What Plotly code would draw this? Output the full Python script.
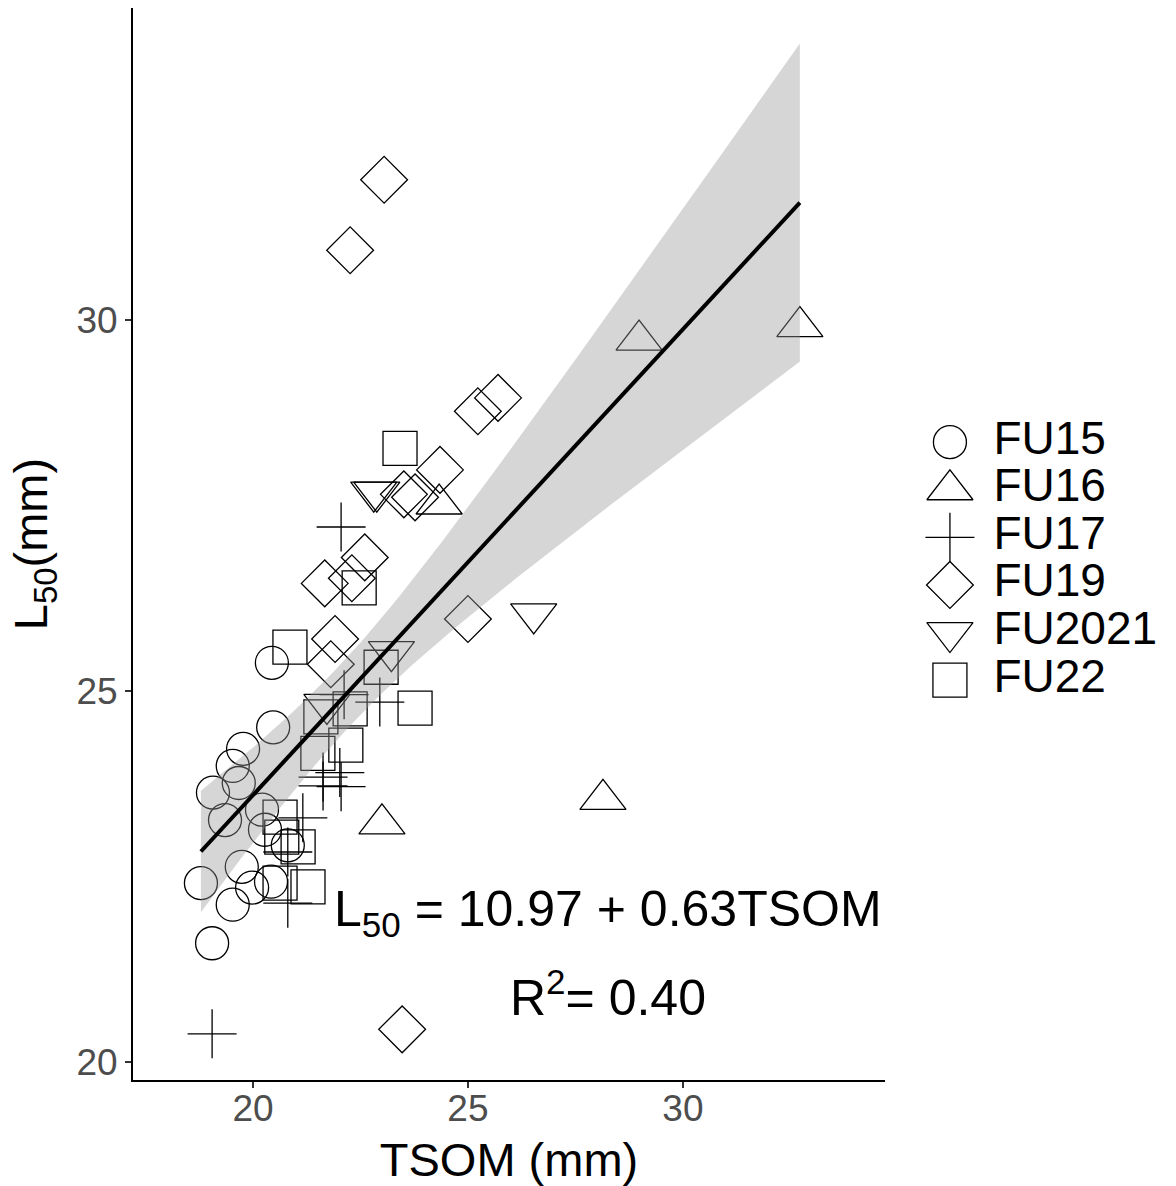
import numpy as np
import plotly.graph_objects as go

# ---------------- data ----------------
groups = ["FU15", "FU16", "FU17", "FU19", "FU2021", "FU22"]

FU15_x = [20.44, 20.47, 19.77, 19.53, 19.67, 19.07, 19.35, 20.21, 20.28, 20.81, 18.79, 19.74, 19.98, 20.42, 19.53, 19.05]
FU15_y = [25.38, 24.51, 24.22, 23.99, 23.76, 23.63, 23.26, 23.40, 23.13, 22.92, 22.41, 22.63, 22.35, 22.43, 22.12, 21.60]

FU16_x = [28.98, 32.72, 24.33, 23.00, 28.14]
FU16_y = [29.73, 29.91, 27.52, 23.21, 23.54]

FU17_x = [19.05, 22.05, 22.95, 22.12, 22.02, 21.63, 21.63, 22.05, 21.16, 20.81, 20.81]
FU17_y = [20.38, 27.21, 24.85, 24.95, 23.90, 23.84, 23.72, 23.71, 23.29, 22.83, 22.14]

FU19_x = [23.05, 22.26, 25.23, 25.70, 24.35, 23.51, 23.77, 21.67, 22.30, 22.60, 21.91, 21.81, 25.00, 23.47]
FU19_y = [31.89, 30.94, 28.77, 28.95, 27.98, 27.65, 27.61, 26.45, 26.52, 26.80, 25.70, 25.36, 25.97, 20.44]

FU2021_x = [22.81, 22.88, 26.53, 23.22, 21.72]
FU2021_y = [27.68, 27.68, 26.04, 25.53, 24.82]

FU22_x = [23.42, 22.47, 20.86, 22.98, 23.77, 22.26, 22.16, 21.58, 21.51, 20.63, 20.67, 21.05, 20.63, 21.28]
FU22_y = [28.27, 26.39, 25.59, 25.32, 24.77, 24.76, 24.27, 24.65, 24.16, 23.30, 23.03, 22.90, 22.41, 22.36]

x_ticks = [20, 25, 30]
y_ticks = [20, 25, 30]
equation_text = "L<sub>50</sub> = 10.97 + 0.63TSOM"
r2_text = "R<sup>2</sup>= 0.40"

# ---------------- styling ----------------
FONT = "Liberation Sans, Arial, sans-serif"
series = {
    "FU15": (FU15_x, FU15_y, "circle-open", 33),
    "FU16": (FU16_x, FU16_y, "triangle-up-open", 40),
    "FU17": (FU17_x, FU17_y, "cross-thin-open", 35),
    "FU19": (FU19_x, FU19_y, "diamond-open", 36),
    "FU2021": (FU2021_x, FU2021_y, "triangle-down-open", 40),
    "FU22": (FU22_x, FU22_y, "square-open", 34),
}

fig = go.Figure()

for g in groups:
    xs, ys, sym, sz = series[g]
    fig.add_trace(go.Scatter(
        x=xs, y=ys, mode="markers", name=g, showlegend=False,
        marker=dict(symbol=sym, size=sz, color="black", line=dict(width=1.3, color="black")),
    ))

# ---------------- linear fit with 95% CI ----------------
X = np.array(sum([series[g][0] for g in groups], []), dtype=float)
Y = np.array(sum([series[g][1] for g in groups], []), dtype=float)
n = len(X)
b1, b0 = np.polyfit(X, Y, 1)
resid = Y - (b0 + b1 * X)
s = np.sqrt(np.sum(resid ** 2) / (n - 2))
xbar = X.mean()
Sxx = np.sum((X - xbar) ** 2)
tcrit = 2.0
xg = np.linspace(X.min(), X.max(), 100)
yg = b0 + b1 * xg
se = s * np.sqrt(1.0 / n + (xg - xbar) ** 2 / Sxx)
lo = yg - tcrit * se
hi = yg + tcrit * se

fig.add_trace(go.Scatter(
    x=np.concatenate([xg, xg[::-1]]), y=np.concatenate([hi, lo[::-1]]),
    fill="toself", fillcolor="rgba(153,153,153,0.4)", line=dict(width=0),
    mode="lines", showlegend=False, hoverinfo="skip",
))
fig.add_trace(go.Scatter(
    x=xg, y=yg, mode="lines", line=dict(color="black", width=4), showlegend=False,
))

# ---------------- custom legend (large keys) on a side axis ----------------
leg_cats = groups[::-1]
for g in groups:
    xs, ys, sym, sz = series[g]
    fig.add_trace(go.Scatter(
        x=[0.133], y=[g], xaxis="x2", yaxis="y2", mode="markers", showlegend=False,
        marker=dict(symbol=sym, size=sz, color="black", line=dict(width=1.3, color="black")),
        hoverinfo="skip",
    ))
fig.add_trace(go.Scatter(
    x=[0.30] * len(groups), y=groups, xaxis="x2", yaxis="y2", mode="text",
    text=groups, textposition="middle right", showlegend=False,
    textfont=dict(family=FONT, size=46, color="black"), hoverinfo="skip",
))

# ---------------- annotations ----------------
fig.add_annotation(x=28.26, y=22.02, xref="x", yref="y", text=equation_text, showarrow=False,
                   font=dict(family=FONT, size=50, color="black"), xanchor="center", yanchor="middle")
fig.add_annotation(x=28.26, y=20.92, xref="x", yref="y", text=r2_text, showarrow=False,
                   font=dict(family=FONT, size=50, color="black"), xanchor="center", yanchor="middle")

fig.update_layout(
    width=1176, height=1186,
    margin=dict(l=133, r=0, t=8, b=106),
    paper_bgcolor="white", plot_bgcolor="white",
    font=dict(family=FONT),
    xaxis=dict(
        domain=[0, 752 / 1043], range=[17.21, 34.70], tickvals=x_ticks,
        showgrid=False, zeroline=False, showline=True, linecolor="black", linewidth=2,
        ticks="outside", ticklen=6, tickwidth=1.5, tickcolor="#333333",
        ticklabelstandoff=-11,
        tickfont=dict(family=FONT, size=37, color="#4d4d4d"),
        title=dict(text="TSOM (mm)", font=dict(family=FONT, size=47, color="black"), standoff=17),
    ),
    yaxis=dict(
        domain=[0, 1], range=[19.757, 34.205], tickvals=y_ticks,
        showgrid=False, zeroline=False, showline=True, linecolor="black", linewidth=2,
        ticks="outside", ticklen=6, tickwidth=1.5, tickcolor="#333333",
        tickfont=dict(family=FONT, size=37, color="#4d4d4d"),
        title=dict(text="L<sub>50</sub>(mm)", font=dict(family=FONT, size=47, color="black"), standoff=14),
    ),
    xaxis2=dict(domain=[0.75, 1.0], range=[0, 1], anchor="y2", visible=False),
    yaxis2=dict(domain=[0, 1], anchor="x2", type="category", categoryorder="array",
                categoryarray=leg_cats, range=[-8.40, 14.12], visible=False),
)

fig.write_html("out.html")
